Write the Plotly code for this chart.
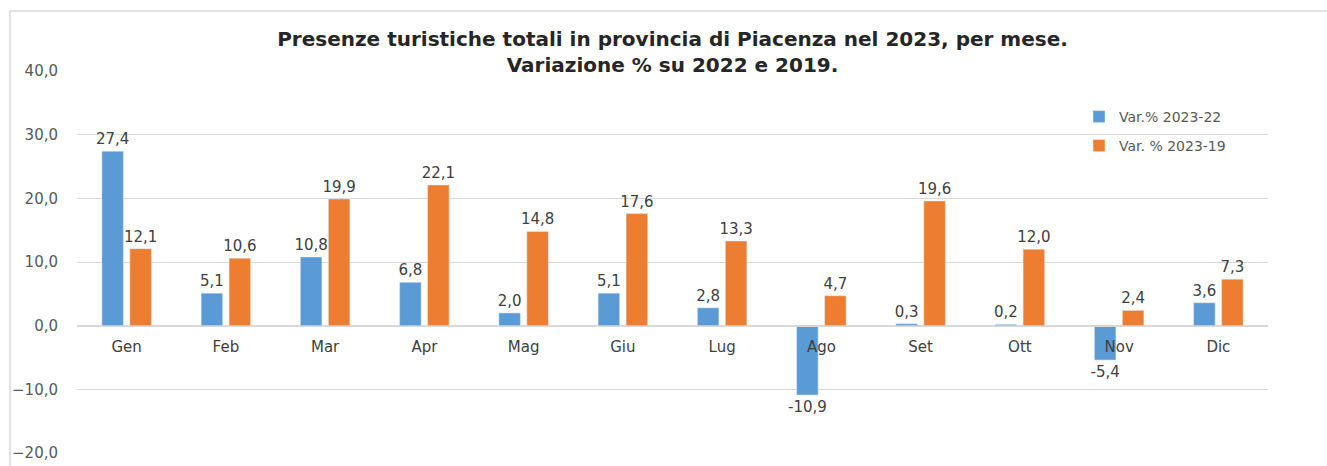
import plotly.graph_objects as go

months = ["Gen", "Feb", "Mar", "Apr", "Mag", "Giu", "Lug", "Ago", "Set", "Ott", "Nov", "Dic"]
var_23_22 = [27.4, 5.1, 10.8, 6.8, 2.0, 5.1, 2.8, -10.9, 0.3, 0.2, -5.4, 3.6]
var_23_19 = [12.1, 10.6, 19.9, 22.1, 14.8, 17.6, 13.3, 4.7, 19.6, 12.0, 2.4, 7.3]
name_22 = "Var.% 2023-22"
name_19 = "Var. % 2023-19"
title_text = "Presenze turistiche totali in provincia di Piacenza nel 2023, per mese.<br>Variazione % su 2022 e 2019."
y_min, y_max = -20, 40
y_ticks = [-20, -10, 0, 10, 20, 30, 40]

W, H = 1327, 466
ml, mr, mt, mb = 77, 59, 71, 13
pw = W - ml - mr
ph = H - mt - mb

FONT = "DejaVu Sans"
TXT = "#404040"

fig = go.Figure()
fig.add_trace(go.Bar(
    x=months, y=var_23_22, name=name_22, marker_color="#5B9BD5",
    texttemplate="%{y:.1f}", textposition="outside", cliponaxis=False, constraintext="none",
    textfont=dict(family=FONT, size=15, color=TXT), legend="legend", showlegend=True,
))
fig.add_trace(go.Bar(
    x=months, y=var_23_19, name=name_19, marker_color="#ED7D31",
    texttemplate="%{y:.1f}", textposition="outside", cliponaxis=False, constraintext="none",
    textfont=dict(family=FONT, size=15, color=TXT), legend="legend2", showlegend=True,
))

def px_x(p):
    return (p - ml) / pw

def px_y(p):
    return (H - mb - p) / ph

zero_pos = (0 - y_min) / (y_max - y_min)

leg_common = dict(font=dict(family=FONT, size=14, color="#595959"), bgcolor="rgba(0,0,0,0)",
                  xanchor="left", yanchor="middle", itemwidth=30, visible=True)

fig.update_layout(
    width=W, height=H,
    margin=dict(l=ml, r=mr, t=mt, b=mb, autoexpand=False),
    paper_bgcolor="white", plot_bgcolor="white",
    separators=",.",
    showlegend=True,
    barmode="group", bargap=0.436, bargroupgap=0.23,
    title=dict(text=title_text, x=0.5, xref="paper", xanchor="center",
               y=(H - 46) / H, yanchor="middle",
               font=dict(family=FONT, size=20, color="#262626", weight="bold")),
    legend=dict(x=px_x(1079), y=px_y(117), **leg_common),
    legend2=dict(x=px_x(1079), y=px_y(146), **leg_common),
    xaxis=dict(anchor="free", position=zero_pos, showline=True, linecolor="#D9D9D9",
               ticks="", automargin=False, ticklabelstandoff=7,
               tickfont=dict(family=FONT, size=15, color=TXT), showgrid=False),
    yaxis=dict(range=[y_min, y_max], tickvals=y_ticks, tickformat=".1f",
               showgrid=True, gridcolor="#D9D9D9", gridwidth=1, zeroline=False,
               showline=False, ticks="", ticklabelstandoff=18, automargin=False,
               tickfont=dict(family=FONT, size=15, color="#595959")),
    shapes=[
        dict(type="line", xref="paper", yref="paper", x0=px_x(10), x1=px_x(10), y0=px_y(11), y1=px_y(470),
             line=dict(color="#D9D9D9", width=1.5)),
        dict(type="line", xref="paper", yref="paper", x0=px_x(10), x1=px_x(1330), y0=px_y(11), y1=px_y(11),
             line=dict(color="#D9D9D9", width=1.5)),
    ],
)

fig.write_html("out.html", config={"displayModeBar": False},
               post_script="document.body.style.margin='0';")
